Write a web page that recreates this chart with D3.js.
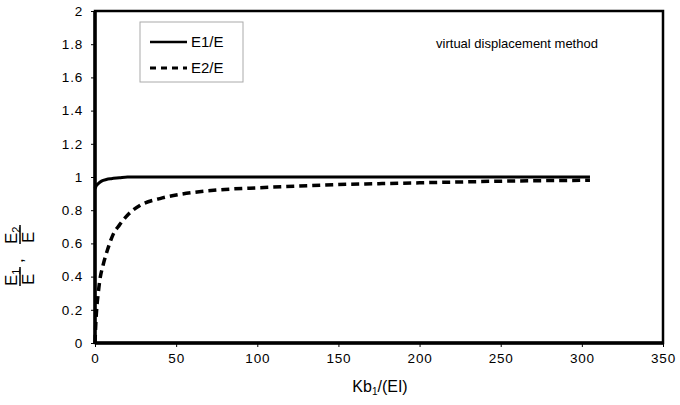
<!DOCTYPE html>
<html>
<head>
<meta charset="utf-8">
<script src="https://cdn.jsdelivr.net/npm/d3@7"></script>
<style>
  body { margin: 0; background: #fff; }
  text { font-family: "Liberation Sans", Arial, sans-serif; }
</style>
</head>
<body>
<div id="chart"></div>
<script>
// values
const xTicks = [0, 50, 100, 150, 200, 250, 300, 350]
const yTicks = [0, 0.2, 0.4, 0.6, 0.8, 1, 1.2, 1.4, 1.6, 1.8, 2]

const e1X = [0, 1, 2, 4, 7, 10, 15, 20, 50, 100, 200, 305]
const e1Y = [0.93, 0.95, 0.96, 0.975, 0.985, 0.99, 0.995, 1, 1, 1, 1, 1]

const e2X = [0, 0.5, 1, 2, 3, 5, 8, 11, 15, 20, 28, 40, 52, 63, 80, 100, 125, 150, 175, 200, 225, 250, 275, 305]
const e2Y = [0, 0.12, 0.2, 0.3, 0.38, 0.47, 0.57, 0.65, 0.71, 0.77, 0.83, 0.87, 0.895, 0.91, 0.925, 0.935, 0.945, 0.955, 0.96, 0.965, 0.97, 0.975, 0.978, 0.98]

const width = 680, height = 405
const mLeft = 95, mRight = 663, mTop = 11, mBottom = 343

const svg = d3.select("#chart")
  .append("svg")
    .attr("width", width)
    .attr("height", height)

const x = d3.scaleLinear().domain([0, 350]).range([mLeft, mRight])
const y = d3.scaleLinear().domain([0, 2]).range([mBottom, mTop])

// frame
svg.append("rect")
  .attr("x", mLeft)
  .attr("y", mTop)
  .attr("width", mRight - mLeft)
  .attr("height", mBottom - mTop)
  .attr("fill", "none")
  .attr("stroke", "#000")
  .attr("stroke-width", 2.5)

const xAxis = svg.append("g")
  .attr("transform", `translate(0,${mBottom})`)
  .call(d3.axisBottom(x).tickValues(xTicks).tickSize(4).tickPadding(6).tickFormat(d3.format("d")))
xAxis.select(".domain").remove()

const yAxis = svg.append("g")
  .attr("transform", `translate(${mLeft},0)`)
  .call(d3.axisLeft(y).tickValues(yTicks).tickSize(4).tickPadding(8).tickFormat(d => String(+d.toFixed(1))))
yAxis.select(".domain").remove()

svg.selectAll(".tick text")
  .attr("font-size", 13.5)
  .attr("letter-spacing", 0.8)
  .attr("font-family", "Liberation Sans, Arial, sans-serif")
  .attr("fill", "#000")

// axis lines drawn heavier
svg.append("line")
  .attr("x1", mLeft).attr("x2", mRight)
  .attr("y1", mBottom).attr("y2", mBottom)
  .attr("stroke", "#000").attr("stroke-width", 3.5)
svg.append("line")
  .attr("x1", mLeft).attr("x2", mLeft)
  .attr("y1", mTop).attr("y2", mBottom)
  .attr("stroke", "#000").attr("stroke-width", 3.5)

const line = d3.line()
  .x(d => x(d[0]))
  .y(d => y(d[1]))
  .curve(d3.curveMonotoneX)

svg.append("path")
  .datum(e2X.map((v, i) => [v, e2Y[i]]))
  .attr("d", line)
  .attr("fill", "none")
  .attr("stroke", "#000")
  .attr("stroke-width", 3.5)
  .attr("stroke-dasharray", "8,5")

svg.append("path")
  .datum(e1X.map((v, i) => [v, e1Y[i]]))
  .attr("d", line)
  .attr("fill", "none")
  .attr("stroke", "#000")
  .attr("stroke-width", 3)

// legend
const lg = svg.append("g")
lg.append("rect")
  .attr("x", 140).attr("y", 22)
  .attr("width", 103).attr("height", 60)
  .attr("fill", "#fff")
  .attr("stroke", "#aaa")
  .attr("stroke-width", 1)
lg.append("line")
  .attr("x1", 150).attr("x2", 187)
  .attr("y1", 42).attr("y2", 42)
  .attr("stroke", "#000").attr("stroke-width", 2.5)
lg.append("line")
  .attr("x1", 150).attr("x2", 187)
  .attr("y1", 68).attr("y2", 68)
  .attr("stroke", "#000").attr("stroke-width", 3)
  .attr("stroke-dasharray", "6,5")
lg.append("text")
  .attr("x", 191).attr("y", 47)
  .attr("font-size", 15)
  .text("E1/E")
lg.append("text")
  .attr("x", 191).attr("y", 73)
  .attr("font-size", 15)
  .text("E2/E")

svg.append("text")
  .attr("x", 517).attr("y", 48)
  .attr("text-anchor", "middle")
  .attr("font-size", 13)
  .text("virtual displacement method")

// x title
const xt = svg.append("text")
  .attr("x", 380).attr("y", 392)
  .attr("text-anchor", "middle")
  .attr("font-size", 16)
xt.append("tspan").text("Kb")
xt.append("tspan").attr("font-size", 10).attr("dy", 3).text("1")
xt.append("tspan").attr("dy", -3).text("/(EI)")

// y title: stacked fractions, rotated
const yt = svg.append("g")
  .attr("transform", "translate(20,252) rotate(-90)")
const fr = [["E", "1", -34], ["E", "2", 8]]
fr.forEach(f => {
  const n = yt.append("text")
    .attr("x", f[2]).attr("y", -3)
    .attr("font-size", 17)
  n.append("tspan").text(f[0])
  n.append("tspan").attr("font-size", 11).attr("dy", 3).text(f[1])
  yt.append("line")
    .attr("x1", f[2]).attr("x2", f[2] + 19)
    .attr("y1", 0).attr("y2", 0)
    .attr("stroke", "#000").attr("stroke-width", 1.5)
  yt.append("text")
    .attr("x", f[2] + 1).attr("y", 14)
    .attr("font-size", 17)
    .text(f[0])
})
yt.append("text")
  .attr("x", -11).attr("y", 3)
  .attr("font-size", 17)
  .text(",")
</script>
</body>
</html>
